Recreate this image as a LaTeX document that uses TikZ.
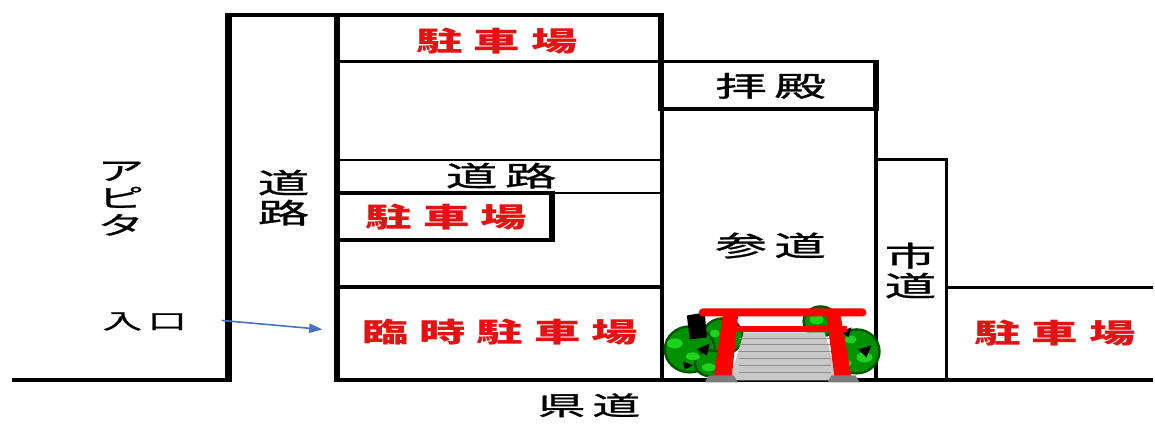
\documentclass[tikz,border=0pt]{standalone}
\usepackage{fontspec}
\usetikzlibrary{arrows.meta}
\newfontfamily\jpred[FakeStretch=1.7,LetterSpace=40]{Noto Sans CJK JP}
\newfontfamily\jpblk[FakeStretch=1.85,LetterSpace=26,FakeBold=1]{Noto Sans CJK JP}
\definecolor{parkred}{RGB}{228,18,18}
\definecolor{toriired}{RGB}{255,0,0}
\definecolor{arrowblue}{RGB}{68,114,196}
\definecolor{stepgray}{RGB}{200,200,200}
\definecolor{stepline}{RGB}{140,140,140}
\definecolor{basegray}{RGB}{125,125,125}
\definecolor{leafdark}{RGB}{0,85,0}
\definecolor{leafmid}{RGB}{0,145,0}
\definecolor{leaflight}{RGB}{30,210,30}
\tikzset{every picture/.style={line width=0.75pt}}
\tikzset{
  heavy/.style={line width=5pt},
  wall/.style={line width=3pt},
  midline/.style={line width=2.2pt},
  thinline/.style={line width=1.3pt},
  parklabel/.style={inner sep=0pt, text=parkred, font=\jpred\bfseries\fontsize{20.5}{24}\selectfont},
  placelabel/.style={inner sep=0pt, text=black, font=\jpblk\fontsize{21}{25}\selectfont},
  vlabel/.style={inner sep=0pt, text=black, align=center, font=\jpblk\fontsize{21}{22.5}\selectfont},
  bush/.style={fill=leafmid, draw=leafdark, line width=1.8pt},
  blotch/.style={fill=leaflight},
}

\begin{document}
\begin{tikzpicture}[x=0.75pt,y=0.75pt,yscale=-1,xscale=1]
\path (0,0) rectangle (1155,424); %set diagram size 1155 x 424

%Straight Lines: ground along the prefectural road
\draw [wall] (12,381) -- (231,381) ;
\draw [wall] (336,381) -- (1155,381) ;
%Straight Lines: side road
\draw [heavy] (229,383) -- (229,13) ;
\draw [heavy] (337.5,383) -- (337.5,13) ;
\draw [wall] (227,15) -- (664,15) ;
%Straight Lines: upper parking and hall
\draw [midline] (338,62) -- (880,62) ;
\draw [heavy] (662,13) -- (662,111) ;
\draw [heavy] (877.5,60.5) -- (877.5,111) ;
\draw [wall] (660,109.5) -- (880,109.5) ;
%Straight Lines: approach
\draw [wall] (663,108) -- (663,383) ;
\draw [wall] (878,108) -- (878,383) ;
%Straight Lines: city road and right parking
\draw [midline] (878,160) -- (948,160) -- (948,383) ;
\draw [wall] (948,288) -- (1155,288) ;
%Straight Lines: middle block
\draw [thinline] (338,160) -- (662,160) ;
\draw [thinline] (338,193) -- (662,193) ;
\draw [wall] (338,193) -- (555,193) ;
\draw [heavy] (553,191) -- (553,242) ;
\draw [wall] (338,240) -- (555,240) ;
\draw [wall] (338,287.5) -- (662,287.5) ;

%Shape: bushes behind the gate
\draw [bush] (724,337) ellipse (20 and 18) ;
\draw [bush] (691,350) ellipse (25 and 23) ;
\draw [bush] (712,364) ellipse (16 and 13) ;
\draw [bush] (822,322) ellipse (17 and 15) ;
\draw [bush] (858,352) ellipse (23 and 22) ;
\fill [black] (688,316) -- (706,313) -- (708,338) -- (691,340) -- cycle ;
\fill [blotch] (676,344) ellipse (8 and 5) ;
\fill [blotch] (694,357) ellipse (7 and 4) ;
\fill [blotch] (710,368) ellipse (7 and 4) ;
\fill [blotch] (716,334) ellipse (5 and 4) ;
\fill [blotch] (818,320) ellipse (7 and 5) ;
\fill [blotch] (852,340) ellipse (6 and 4) ;
\fill [blotch] (866,358) ellipse (8 and 5) ;
\fill [blotch] (848,364) ellipse (5 and 4) ;
\fill [black] (698,350) -- (711,344) -- (708,356) -- cycle ;
\fill [black] (684,362) -- (694,366) -- (686,370) -- cycle ;
\fill [black] (860,350) -- (873,346) -- (868,358) -- cycle ;
\fill [black] (842,332) -- (853,328) -- (850,338) -- cycle ;
\fill [black] (828,312) -- (838,310) -- (834,318) -- cycle ;

%Shape: steps
\fill [stepgray] (745,333) -- (826,333) -- (840,381) -- (731,381) -- cycle ;
\foreach \y in {339,345,352,359,366,373}
  \draw [stepline, line width=0.8pt] (740,\y) -- (832,\y) ;

%Shape: torii gate
\fill [toriired] (725,310) -- (740,310) -- (733,378) -- (715,378) -- cycle ;
\fill [toriired] (827,310) -- (841,310) -- (853,378) -- (836,378) -- cycle ;
\fill [toriired, rounded corners=3] (700,309) rectangle (868,317) ;
\fill [toriired] (722,327) rectangle (848,333) ;
\fill [basegray] (710,376) -- (735,376) -- (739,383) -- (706,383) -- cycle ;
\fill [basegray] (833,376) -- (857,376) -- (861,383) -- (829,383) -- cycle ;

% Text Node
\node [parklabel] (parkTop) at (498,41) {駐車場};
% Text Node
\node [placelabel] (haiden) at (772,86) {拝殿};
% Text Node
\node [placelabel] (roadMid) at (502,176) {道路};
% Text Node
\node [parklabel] (parkMid) at (447,217) {駐車場};
% Text Node
\node [placelabel] (sando) at (772,246) {参道};
% Text Node
\node [vlabel] (shido) at (912,271) {市\\道};
% Text Node
\node [parklabel] (parkRight) at (1057,334) {駐車場};
% Text Node
\node [parklabel] (rinji) at (501,333) {臨時駐車場};
% Text Node
\node [placelabel, font=\jpblk\fontsize{19.5}{24}\selectfont] (kendo) at (590,406) {県道};
% Text Node
\node [vlabel, font=\jpblk\fontsize{19}{20.5}\selectfont] (apita) at (121,199) {ア\\ピ\\タ};
% Text Node
\node [vlabel] (roadSide) at (284,198) {道\\路};
% Text Node
\node [placelabel, font=\jpblk\fontsize{16}{20}\selectfont] (iriguchi) at (145,322) {入口};

%Straight Lines: entrance arrow
\coordinate (entryTail) at (222,321) ;
\coordinate (entryHead) at (323,330) ;
\draw [arrowblue, line width=1.2pt, -{Triangle[length=10pt,width=7pt]}] (entryTail) -- (entryHead) ;

\end{tikzpicture}
\end{document}
